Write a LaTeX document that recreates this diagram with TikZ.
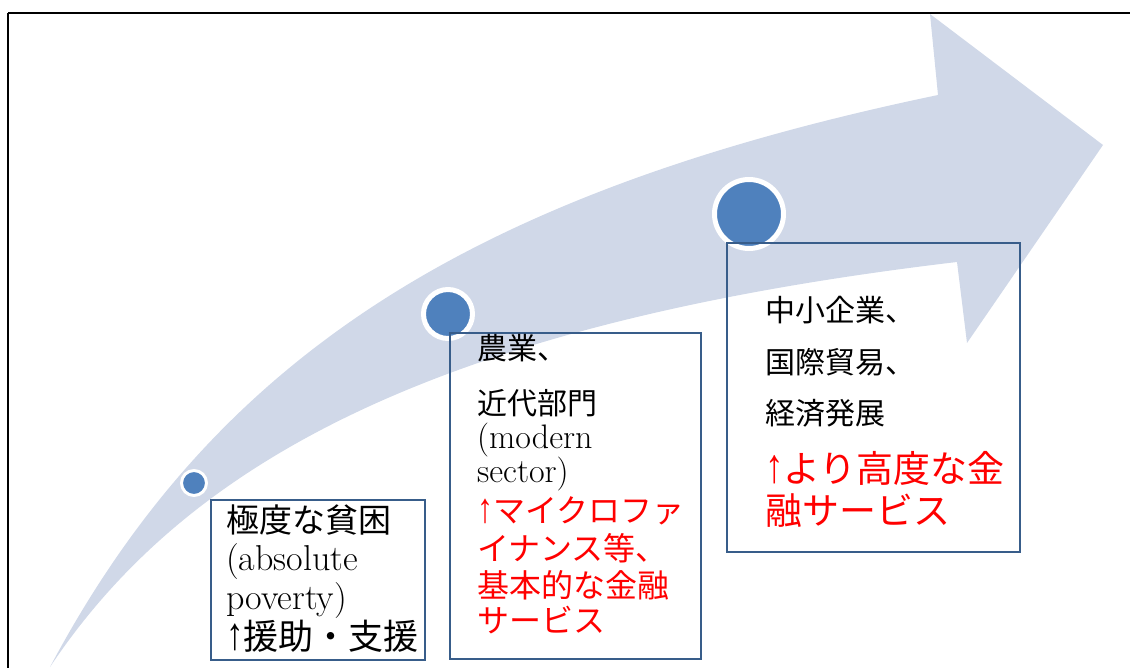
\documentclass[tikz,border=0pt]{standalone}
\usepackage{graphicx}
\usepackage{fontspec}
\newfontfamily\jp{Noto Sans CJK JP}
\newfontfamily\arrfont{Liberation Sans}
\newcommand\uparr{{\arrfont\scalebox{1}[1.3]{↑}}}
\definecolor{arrowfill}{HTML}{D0D8E8}
\definecolor{dotblue}{HTML}{4F81BD}
\definecolor{boxblue}{HTML}{385D8A}
\definecolor{redtext}{HTML}{FF0000}
\tikzset{
  stage/.style={draw=boxblue, line width=1.8pt, rectangle, inner sep=0pt},
  dot/.style={circle, fill=dotblue, draw=white, inner sep=0pt},
  line/.style={anchor=west, inner sep=0pt, text=black},
  redline/.style={anchor=west, inner sep=0pt, text=redtext},
}
\begin{document}
\begin{tikzpicture}[x=1pt,y=-1pt]
\useasboundingbox (0,0) rectangle (1130,668);
\clip (0,0) rectangle (1130,668);
% frame
\draw[line width=1.7pt] (8,13) -- (1145,13) (8,13) -- (8,690);
% big curved arrow
\fill[arrowfill] (50,667) .. controls (214,359) and (468,193) .. (938,95)
  -- (930,14) -- (1103,145) -- (967,343) -- (957,262)
  .. controls (441,323) and (188,460) .. (50,667)
  -- cycle;
% dots
\node[dot, line width=3pt, minimum size=25pt] (d1) at (194,483) {};
\node[dot, line width=5pt, minimum size=49pt] (d2) at (448,314) {};
\node[dot, line width=5pt, minimum size=69pt] (d3) at (749,214) {};
% boxes
\node[stage, anchor=north west, minimum width=214pt, minimum height=160pt] (b1) at (210,499) {};
\node[stage, anchor=north west, minimum width=251pt, minimum height=326pt] (b2) at (449,332) {};
\node[stage, anchor=north west, minimum width=293pt, minimum height=309pt] (b3) at (726,242) {};
% box 1 text
\node[line, font=\jp\fontsize{33}{36}\selectfont] (t11) at (226,520) {極度な貧困};
\node[line, font=\fontsize{36}{38}\selectfont] (t12) at (226,562) {(absolute};
\node[line, font=\fontsize{36}{38}\selectfont] (t13) at (226,601) {poverty)};
\node[line, font=\jp\fontsize{35}{36}\selectfont] (t14) at (226,636) {\uparr 援助・支援};
% box 2 text
\node[line, font=\jp\fontsize{30}{34}\selectfont] (t21) at (477,348) {農業、};
\node[line, font=\jp\fontsize{30}{34}\selectfont] (t22) at (477,403) {近代部門};
\node[line, font=\fontsize{34}{36}\selectfont] (t23) at (477,440) {(modern};
\node[line, font=\fontsize{34}{36}\selectfont] (t24) at (477,474) {sector)};
\node[redline, font=\jp\fontsize{32}{34}\selectfont] (t25) at (477,511) {\uparr マイクロファ};
\node[redline, font=\jp\fontsize{32}{34}\selectfont] (t26) at (477,548) {イナンス等、};
\node[redline, font=\jp\fontsize{32}{34}\selectfont] (t27) at (477,585) {基本的な金融};
\node[redline, font=\jp\fontsize{32}{34}\selectfont] (t28) at (477,620) {サービス};
% box 3 text
\node[line, font=\jp\fontsize{30}{34}\selectfont] (t31) at (765,310) {中小企業、};
\node[line, font=\jp\fontsize{30}{34}\selectfont] (t32) at (765,362) {国際貿易、};
\node[line, font=\jp\fontsize{30}{34}\selectfont] (t33) at (765,413) {経済発展};
\node[redline, font=\jp\fontsize{37}{40}\selectfont] (t34) at (765,468) {\uparr より高度な金};
\node[redline, font=\jp\fontsize{37}{40}\selectfont] (t35) at (765,511) {融サービス};
\end{tikzpicture}
\end{document}
